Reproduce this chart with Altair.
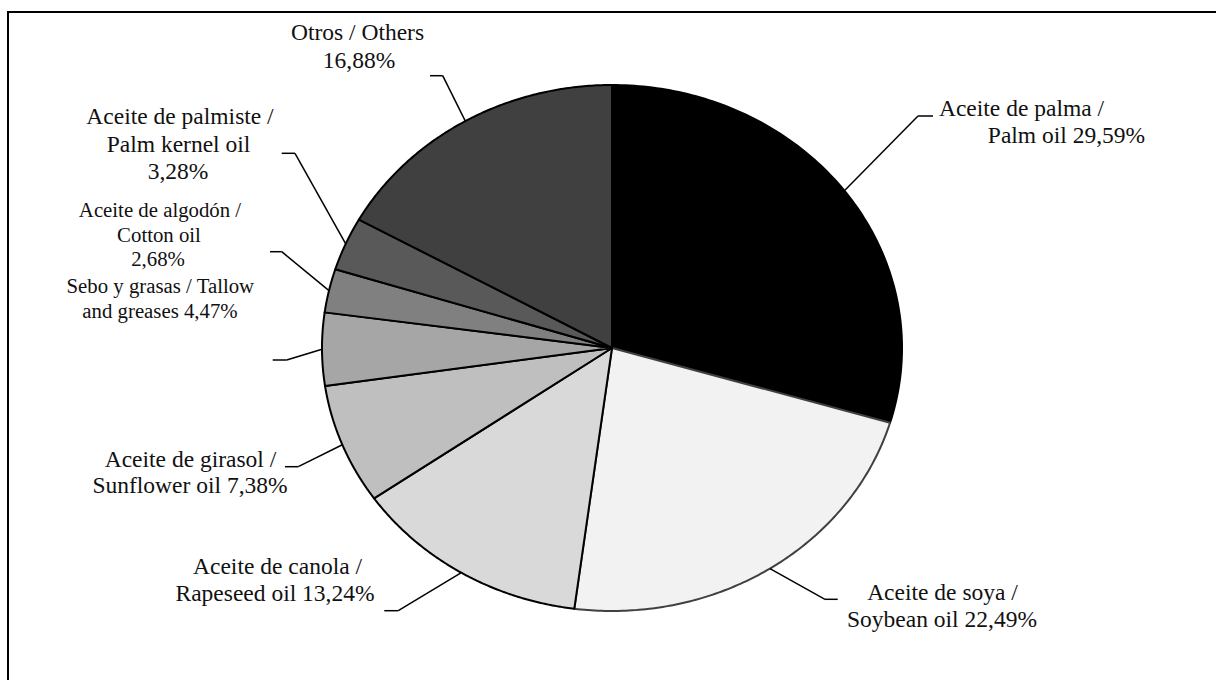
import altair as alt
import pandas as pd

# ---------------- data ----------------
categories = [
    "Aceite de palma / Palm oil",
    "Aceite de soya / Soybean oil",
    "Aceite de canola / Rapeseed oil",
    "Aceite de girasol / Sunflower oil",
    "Sebo y grasas / Tallow and greases",
    "Aceite de algodón / Cotton oil",
    "Aceite de palmiste / Palm kernel oil",
    "Otros / Others",
]
shares = [29.59, 22.49, 13.24, 7.38, 4.47, 2.68, 3.28, 16.88]

# label text, one list of lines per slice ({v} = the share)
label_lines = [
    ["Aceite de palma /", "Palm oil {v}"],
    ["Aceite de soya /", "Soybean oil {v}"],
    ["Aceite de canola /", "Rapeseed oil {v}"],
    ["Aceite de girasol /", "Sunflower oil {v}"],
    ["Sebo y grasas / Tallow", "and greases {v}"],
    ["Aceite de algodón /", "Cotton oil", "{v}"],
    ["Aceite de palmiste /", "Palm kernel oil", "{v}"],
    ["Otros / Others", "{v}"],
]

# ---------------- styles / layout ----------------
fills = ["#000000", "#f2f2f2", "#d9d9d9", "#bfbfbf", "#a6a6a6", "#808080", "#595959", "#404040"]
edges = ["#000000", "#404040", "#000000", "#000000", "#000000", "#000000", "#000000", "#000000"]

W, H = 1216, 680
CX, CY, RX, RY = 612, 348, 290, 263
FONT = "Liberation Serif"

# per label line: centre x, baseline y, font size
label_x = [[1021.5, 1066.5], [942.5, 942], [277.5, 275], [190.5, 190],
           [160.3, 160], [160, 159, 158], [180, 178.5, 178], [357.5, 359]]
label_y = [[116, 143], [600, 627], [574, 600.5], [466.7, 493.3],
           [293.3, 318.3], [216.7, 241.7, 266], [124, 151.7, 178.5], [40, 68]]
label_size = [23.5, 23.5, 23.5, 23.5, 20.8, 20.8, 23.5, 23.5]

# leader lines: elbow point and end of the short horizontal tick
elbow_x = [918, 825, 398.3, 298.3, 286.7, 281.7, 295, 442.7]
elbow_y = [116, 599.3, 610.7, 466.7, 360, 251.7, 153.3, 75.7]
end_x = [933, 837.7, 384.3, 285, 272.7, 270, 281.7, 430]

# ---------------- tables ----------------
slices = pd.DataFrame({
    "idx": list(range(len(categories))),
    "category": categories,
    "share": shares,
    "fill": fills,
    "edge": edges,
    "elbow_x": elbow_x,
    "elbow_y": elbow_y,
    "end_x": end_x,
})

rows = []
for i, lines in enumerate(label_lines):
    v = f"{shares[i]:.2f}".replace(".", ",") + "%"
    for j, ln in enumerate(lines):
        rows.append({"text": ln.format(v=v), "x": label_x[i][j], "y": label_y[i][j], "size": label_size[i]})
labels = pd.DataFrame(rows)

xs = alt.Scale(domain=[0, W], nice=False, zero=False)
ys = alt.Scale(domain=[0, H], nice=False, zero=False, reverse=True)

base = (
    alt.Chart(slices)
    .transform_window(cum="sum(share)", sort=[alt.SortField("idx")], frame=[None, 0])
    .transform_joinaggregate(total="sum(share)")
    .transform_calculate(
        start="(datum.cum - datum.share) / datum.total",
        end="datum.cum / datum.total",
    )
)

N = 120
pie = (
    base.transform_calculate(pts=f"sequence(-1, {N + 1})")
    .transform_flatten(["pts"])
    .transform_calculate(
        ang=f"2 * PI * (datum.start + (datum.end - datum.start) * max(datum.pts, 0) / {N})",
    )
    .transform_calculate(
        px=f"datum.pts < 0 ? {CX} : {CX} + {RX} * sin(datum.ang)",
        py=f"datum.pts < 0 ? {CY} : {CY} - {RY} * cos(datum.ang)",
    )
    .mark_line(interpolate="linear-closed", strokeWidth=2, strokeJoin="round")
    .encode(
        x=alt.X("px:Q", scale=xs, axis=None),
        y=alt.Y("py:Q", scale=ys, axis=None),
        fill=alt.Fill("fill:N", scale=None),
        stroke=alt.Stroke("edge:N", scale=None),
        detail="category:N",
        order="pts:Q",
    )
)

anchors = base.transform_calculate(
    mid="2 * PI * (datum.start + datum.end) / 2",
).transform_calculate(
    ax=f"{CX} + {RX} * sin(datum.mid)",
    ay=f"{CY} - {RY} * cos(datum.mid)",
)

leader1 = anchors.mark_rule(color="black", strokeWidth=1.5).encode(
    x=alt.X("ax:Q", scale=xs, axis=None),
    y=alt.Y("ay:Q", scale=ys, axis=None),
    x2="elbow_x:Q",
    y2="elbow_y:Q",
)
leader2 = anchors.mark_rule(color="black", strokeWidth=1.5).encode(
    x=alt.X("elbow_x:Q", scale=xs, axis=None),
    y=alt.Y("elbow_y:Q", scale=ys, axis=None),
    x2="end_x:Q",
    y2="elbow_y:Q",
)

text = alt.Chart(labels).mark_text(
    font=FONT, align="center", baseline="alphabetic", color="#111111"
).encode(
    x=alt.X("x:Q", scale=xs, axis=None),
    y=alt.Y("y:Q", scale=ys, axis=None),
    text="text:N",
    size=alt.Size("size:Q", scale=None),
)

frame = alt.Chart(pd.DataFrame({"a": [0]})).mark_rect(
    fill=None, stroke="black", strokeWidth=2
).encode(
    x=alt.value(8), y=alt.value(12), x2=alt.value(W + 200), y2=alt.value(H + 200)
)

chart = (
    alt.layer(frame, pie, leader1, leader2, text)
    .properties(width=W, height=H, padding=0, autosize=alt.AutoSizeParams(type="none"),
                background="white")
    .configure_view(stroke=None)
)

chart.save("out.html", embed_options={"renderer": "svg", "actions": False})
